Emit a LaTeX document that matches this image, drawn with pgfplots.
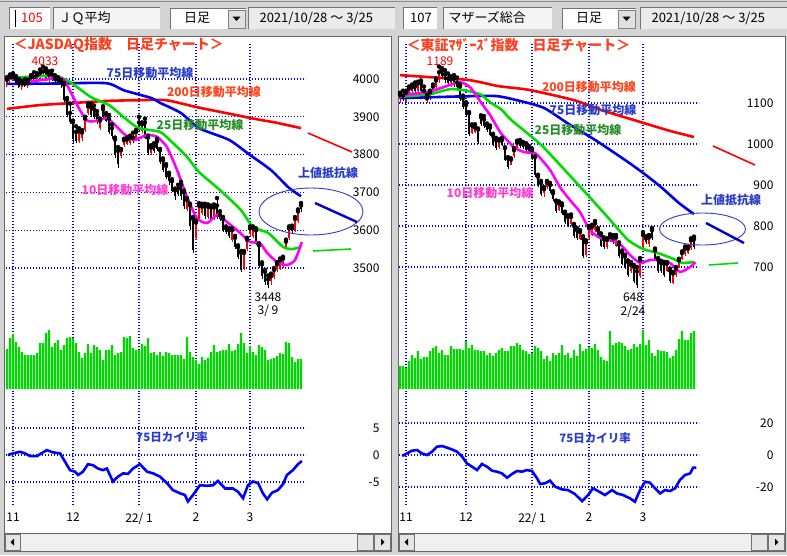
\documentclass[border=0pt]{standalone}
\usepackage{pgfplots}
\pgfplotsset{compat=1.18}
\usepackage{pgfplotstable}
\usepackage{fontspec}
\setmainfont{Noto Sans CJK JP}

\definecolor{guigray}{RGB}{212,212,212}
\definecolor{ma200}{RGB}{255,0,0}
\definecolor{ma75}{RGB}{0,0,235}
\definecolor{ma25}{RGB}{0,220,0}
\definecolor{ma10}{RGB}{255,0,255}
\definecolor{volgreen}{RGB}{0,214,0}
\definecolor{gridblue}{RGB}{0,0,255}
\definecolor{titlered}{RGB}{255,64,32}
\definecolor{lbl75}{RGB}{40,60,200}
\definecolor{lbl200}{RGB}{255,70,30}
\definecolor{lbl25}{RGB}{40,140,40}
\definecolor{lbl10}{RGB}{255,60,210}
\definecolor{annblue}{RGB}{50,60,200}

% ---------- JASDAQ (left) ----------
\pgfplotstableread{
i o h l c
0 3990 4005 3980 3998
1 3998 4012 3990 4005
5 3980 3995 3970 3988
7 3982 3998 3975 3992
8 3992 4010 3985 4005
10 4000 4015 3990 4010
11 4010 4025 4000 4015
12 4015 4033 4005 4020
14 4000 4020 3990 4012
24 3835 3870 3830 3862
25 3845 3865 3835 3858
26 3865 3900 3860 3895
27 3910 3935 3905 3928
31 3870 3895 3865 3890
38 3795 3815 3790 3812
39 3825 3842 3820 3838
40 3828 3845 3825 3840
41 3832 3850 3825 3845
43 3838 3865 3835 3860
45 3862 3885 3858 3880
48 3805 3825 3800 3818
60 3655 3685 3650 3680
63 3580 3625 3575 3620
64 3630 3672 3625 3665
65 3645 3670 3640 3662
67 3635 3668 3630 3662
69 3632 3668 3628 3660
75 3575 3605 3570 3600
79 3500 3545 3495 3540
80 3550 3580 3545 3575
81 3590 3610 3585 3605
82 3585 3610 3580 3605
88 3465 3485 3455 3478
89 3475 3500 3470 3495
90 3495 3515 3490 3510
91 3500 3525 3495 3520
92 3505 3530 3500 3525
93 3555 3575 3550 3570
94 3580 3610 3575 3605
96 3600 3635 3595 3630
97 3625 3655 3620 3650
}\LRed
\pgfplotstableread{
i o h l c
2 4005 4015 3995 4000
3 4000 4008 3985 3990
4 3990 4000 3975 3980
6 3988 4000 3978 3982
9 4005 4018 3995 4000
13 4020 4028 3995 4000
15 4012 4022 3995 4000
16 4000 4010 3985 3995
17 3998 4005 3985 3990
18 3990 3998 3975 3985
19 3985 3990 3940 3945
20 3945 3950 3900 3905
21 3910 3935 3880 3886
22 3886 3890 3830 3840
23 3860 3875 3830 3835
28 3925 3935 3900 3905
29 3920 3930 3895 3900
30 3905 3915 3880 3885
32 3920 3928 3895 3900
33 3905 3910 3885 3890
34 3895 3905 3855 3860
35 3870 3880 3840 3848
36 3840 3845 3790 3800
37 3810 3820 3765 3775
42 3845 3858 3830 3835
44 3885 3900 3860 3865
46 3885 3895 3840 3845
47 3845 3850 3800 3805
49 3822 3830 3805 3810
50 3835 3842 3810 3815
51 3812 3815 3775 3780
52 3785 3790 3755 3760
53 3770 3775 3735 3742
54 3745 3752 3720 3730
55 3730 3735 3700 3705
56 3705 3710 3680 3690
57 3710 3720 3690 3695
58 3720 3728 3680 3690
59 3700 3705 3655 3665
61 3665 3670 3600 3610
62 3630 3635 3540 3548
66 3665 3670 3630 3638
68 3660 3665 3625 3630
70 3665 3685 3630 3635
71 3640 3650 3625 3630
72 3630 3635 3595 3600
73 3605 3610 3590 3595
74 3600 3605 3580 3585
76 3580 3585 3550 3555
77 3555 3560 3525 3530
78 3540 3545 3490 3495
83 3600 3605 3560 3565
84 3560 3565 3500 3505
85 3510 3515 3470 3480
86 3490 3495 3455 3462
87 3470 3480 3448 3455
95 3605 3612 3590 3598
98 3665 3672 3648 3655
}\LBlack
\pgfplotstableread{
i v
0 3921
11 3931
23 3937
33 3942
44 3944
53 3944
63 3926
73 3910
83 3894
90 3884
98 3870
}\LMAa
\pgfplotstableread{
i v
0 3987
15 3988
33 3989
39 3970
48 3950
51 3937
58 3910
64 3870
74 3839
81 3799
88 3759
94 3712
98 3690
}\LMAb
\pgfplotstableread{
i v
0 4003
8 4006
16 4008
21 3992
28 3952
34 3931
40 3892
44 3870
51 3860
55 3833
60 3794
64 3754
71 3706
78 3653
82 3608
87 3593
92 3556
95 3550
98 3556
}\LMAc
\pgfplotstableread{
i v
0 4003
4 3997
9 3995
14 4000
18 4003
19.5 3992
21.7 3958
24.3 3918
26.7 3890
28.7 3888
31 3892
33.3 3897
35.3 3884
38.7 3857
42 3839
44.3 3844
46.7 3852
50 3847
53.3 3820
56.7 3759
60 3688
63.3 3632
66.7 3619
70 3640
73.3 3622
77.7 3593
81 3569
84.3 3566
86.7 3540
90 3516
93.3 3508
96 3521
98.3 3569
}\LMAd
\pgfplotstableread{
i v
0 40
1 51
2 55
3 47
4 42
5 37
6 34
7 34
8 34
9 34
10 36
11 46
12 46
13 56
14 59
15 42
16 46
17 49
18 39
19 44
20 51
21 52
22 51
23 46
24 37
25 31
26 36
27 45
28 36
29 44
30 42
31 39
32 29
33 39
34 39
35 44
36 34
37 36
38 37
39 52
40 51
41 53
42 41
43 39
44 39
45 45
46 43
47 51
48 36
49 37
50 34
51 37
52 33
53 37
54 36
55 34
56 34
57 34
58 34
59 30
60 52
61 37
62 32
63 29
64 25
65 32
66 29
67 31
68 37
69 44
70 37
71 38
72 39
73 39
74 45
75 38
76 39
77 45
78 56
79 46
80 36
81 43
82 37
83 34
84 44
85 42
86 39
87 29
88 30
89 31
90 33
91 36
92 35
93 47
94 46
95 32
96 27
97 30
98 30
}\LVol
\pgfplotstableread{
i v
0.3 0
2 0.3
4.3 0.6
6 0.3
7.7 -0.2
10 -0.2
11.7 0.4
13.3 0.9
15.3 0.5
17.7 0.3
19.3 -1.2
21 -2.8
22.7 -3.1
23.7 -3.7
25.3 -3.1
27 -1.7
28.7 -1.9
30.3 -2.5
32 -2.8
33.3 -2.5
35.3 -4.9
37 -4.0
38.7 -3.4
40.3 -3.5
42 -2.5
44.3 -1.7
46.7 -3.1
48.7 -3.4
51 -4.0
53.3 -5.2
55.3 -6.5
57.7 -7.1
59.3 -7.4
60.3 -8.6
62 -7.4
64.3 -5.6
66.7 -5.7
68.7 -5.6
70.3 -4.8
72.7 -6.2
75.3 -6.2
77 -6.8
78.7 -8.0
80.3 -5.6
82 -4.9
83.7 -5.2
85.3 -7.1
86.7 -8.2
88.3 -7.0
90.3 -6.5
92 -5.4
93.3 -3.7
95.3 -2.8
97 -1.7
98.3 -1.1
}\LDev

% ---------- Mothers (right) ----------
\pgfplotstableread{
i o h l c
0 1110 1125 1100 1120
2 1105 1130 1100 1125
3 1120 1140 1115 1135
4 1130 1145 1120 1138
6 1130 1152 1128 1148
9 1105 1120 1100 1112
10 1112 1130 1108 1126
11 1125 1145 1120 1140
12 1140 1160 1135 1155
13 1155 1189 1150 1175
17 1150 1165 1140 1158
24 1028 1048 1025 1045
25 1030 1048 1028 1040
33 992 1012 988 1008
37 950 965 948 962
38 970 990 965 985
39 990 1008 988 1003
48 880 895 870 890
49 895 910 890 905
53 840 860 836 855
57 805 828 800 822
60 768 790 765 785
62 730 765 725 760
63 770 800 765 795
64 778 803 775 798
65 790 812 785 806
69 750 770 745 766
72 752 778 748 772
77 690 712 685 705
80 678 722 672 716
81 750 785 745 778
83 755 778 750 772
89 690 712 688 708
91 662 688 658 684
92 680 700 676 696
93 700 720 697 716
94 720 738 716 734
95 732 750 728 745
96 735 750 732 745
97 746 770 742 765
}\RRed
\pgfplotstableread{
i o h l c
1 1118 1130 1105 1110
5 1140 1150 1125 1130
7 1148 1155 1125 1130
8 1130 1140 1110 1115
14 1178 1185 1160 1165
15 1170 1180 1150 1155
16 1160 1172 1145 1150
18 1160 1168 1140 1145
19 1150 1162 1135 1140
20 1140 1145 1105 1110
21 1112 1118 1085 1090
22 1095 1102 1065 1070
23 1075 1078 1020 1025
26 1035 1038 1000 1005
27 1065 1070 1045 1048
28 1060 1068 1040 1045
29 1045 1050 1030 1035
30 1040 1045 1020 1022
31 1020 1025 995 1000
32 1010 1015 985 990
34 1010 1015 995 998
35 990 992 958 962
36 965 968 938 945
40 1005 1010 990 995
41 1000 1005 988 992
42 998 1002 982 985
43 990 995 978 982
44 985 988 960 965
45 968 970 920 925
46 920 925 895 900
47 905 910 872 878
50 900 905 880 885
51 880 885 860 865
52 860 862 832 836
54 850 855 828 832
55 830 835 805 810
56 822 826 798 802
58 800 805 770 775
59 790 795 765 770
61 770 775 722 728
66 790 795 770 775
67 778 782 748 752
68 768 772 745 750
70 775 780 760 765
71 770 778 755 760
73 755 760 722 726
74 735 740 705 708
75 725 730 695 700
76 712 716 676 680
78 700 705 660 665
79 690 700 648 655
82 770 775 755 760
84 790 795 765 770
85 740 745 715 720
86 718 722 685 690
87 710 715 685 690
88 708 712 675 680
90 692 696 662 666
98 768 774 745 750
}\RBlack
\pgfplotstableread{
i v
0 1168
10 1163
23 1156
33 1141
43 1132
58 1107
67 1083
80 1054
90 1032
98 1017
}\RMAa
\pgfplotstableread{
i v
0 1112
10 1114
20 1116
32 1117
40 1105
48 1088
56 1050
65 1010
76 956
82 924
87 895
93 856
98 829
}\RMAb
\pgfplotstableread{
i v
0 1115
10 1122
17 1134
23 1129
27 1120
30 1102
34 1083
37 1059
47 998
57 920
65 856
70 815
76 766
81 744
86 734
92 717
94 710
98 712
}\RMAc
\pgfplotstableread{
i v
0 1115
3.3 1122
6.7 1124
11.7 1132
16.7 1144
20 1151
23.3 1139
26 1112
28.3 1088
30 1071
33.3 1030
35 1015
38.3 990
41.7 980
45 978
46.7 966
50 937
53.3 895
56.7 863
60 834
63.3 790
66.7 771
70 766
73.3 756
76.7 729
80 710
83.3 717
86.7 717
90 710
93.3 688
96.7 700
98.5 712
}\RMAd
\pgfplotstableread{
i v
0 23
1 23
2 21
3 28
4 34
5 31
6 38
7 30
8 32
9 32
10 38
11 41
12 43
13 36
14 39
15 34
16 34
17 43
18 40
19 40
20 40
21 39
22 48
23 41
24 44
25 39
26 39
27 38
28 38
29 34
30 36
31 33
32 36
33 39
34 41
35 38
36 38
37 43
38 43
39 46
40 44
41 39
42 38
43 35
44 36
45 43
46 41
47 38
48 30
49 33
50 28
51 36
52 34
53 36
54 44
55 34
56 36
57 31
58 39
59 33
60 45
61 38
62 40
63 42
64 41
65 45
66 39
67 32
68 29
69 28
70 58
71 44
72 46
73 47
74 46
75 43
76 39
77 40
78 45
79 42
80 45
81 59
82 44
83 49
84 36
85 33
86 39
87 38
88 38
89 37
90 31
91 33
92 39
93 50
94 58
95 49
96 49
97 56
98 58
}\RVol
\pgfplotstableread{
i v
0.7 -0.6
2.3 1.0
4 2.7
5.7 3.1
7.3 1.0
9 0
10.7 2.1
12.3 5.2
14 5.6
15.7 4.6
17.3 3.5
19 2.1
20.7 -1.0
22.3 -5.2
24 -7.3
25.7 -9.4
27.3 -5.6
29 -7.3
30.7 -9.8
32.3 -10.4
34 -11.5
35.7 -14.2
37.3 -11.9
39 -10
40.7 -10.4
42.3 -9.4
44 -10
45.7 -14.6
46.7 -18.1
48.3 -17.7
50 -16.0
51.7 -19.8
54 -21.5
56 -21.9
58.3 -24.4
60.7 -28.8
62.7 -25
64.3 -20.8
66 -22.5
68.3 -25
70.7 -21.9
72.3 -24
74.3 -25
76.7 -27.1
78.3 -29.2
80 -21.9
81.7 -16.7
83.3 -17.3
85 -20.8
86.7 -24
88.3 -21.9
90 -22.5
91.7 -20.8
93.3 -15.6
95 -12.5
96.7 -11.5
97.7 -7.9
98.8 -7.9
}\RDev

\pgfplotsset{
  panel/.style={
    scale only axis, width=300pt,
    xmin=-0.3333, xmax=99.6667,
    axis line style={draw=none}, tick style={draw=none},
    xtick={2,22,44,63,81}, xticklabels={},
    xmajorgrids, ymajorgrids,
    major grid style={draw=gridblue, line width=1.3pt, dash pattern=on 1.3pt off 1.7pt},
    yticklabel pos=right,
    /pgf/number format/1000 sep={},
    /pgf/number format/assume math mode=true,
    ticklabel style={font=\fontsize{12}{13}\selectfont},
    xticklabel style={yshift=-4pt},
  },
  wick/.style={only marks, mark=none, error bars/.cd, y dir=minus, y explicit, error mark=none,
    error bar style={draw=#1, line width=1pt}},
  body/.style={only marks, mark=none, error bars/.cd, y dir=minus, y explicit, error mark=none,
    error bar style={draw=#1, line width=2.2pt}},
  maline/.style={#1, line width=2.6pt, mark=none, smooth, tension=0.4},
}

\newcommand{\candles}[2]{%
  \addplot[wick=black] table[x=i, y=h, y error minus expr=\thisrow{h}-\thisrow{l}] {#2};
  \addplot[body=black] table[x=i, y=o, y error minus expr=\thisrow{o}-\thisrow{c}] {#2};
  \addplot[wick=red] table[x=i, y=h, y error minus expr=\thisrow{h}-\thisrow{l}] {#1};
  \addplot[body=red] table[x=i, y=c, y error minus expr=\thisrow{c}-\thisrow{o}] {#1};
}

\begin{document}
\begin{tikzpicture}
\useasboundingbox (0pt,0pt) rectangle (787pt,-555pt);
\fill[guigray] (0pt,0pt) rectangle (787pt,-555pt);
\draw[black!45] (0pt,-1pt) -- (787pt,-1pt);

% header, left
\fill[white] (9pt,-7pt) rectangle (50pt,-29pt);
\draw[black!55] (9pt,-29pt) |- (50pt,-7pt);
\draw[black, line width=0.8pt] (15pt,-10pt) -- (15pt,-27pt);
\node[text=red, font=\fontsize{13}{13}\selectfont] at (32pt,-18pt) {105};
\fill[black!4] (53pt,-7pt) rectangle (160pt,-29pt);
\draw[black!55] (53pt,-29pt) |- (160pt,-7pt);
\node[anchor=west, font=\fontsize{13}{13}\selectfont] at (55pt,-18pt) {ＪＱ平均};
\fill[white] (170pt,-8pt) rectangle (246pt,-29pt);
\draw[black!55] (170pt,-29pt) |- (246pt,-8pt);
\node[font=\fontsize{13}{13}\selectfont] at (197pt,-18pt) {日足};
\fill[black!12] (228pt,-10pt) rectangle (245pt,-28pt);
\draw[black!50] (228pt,-28pt) rectangle (245pt,-10pt);
\fill[black] (232.5pt,-16.5pt) -- (240.5pt,-16.5pt) -- (236.5pt,-21pt) -- cycle;
\fill[black!8] (248pt,-7pt) rectangle (395pt,-29pt);
\draw[black!55] (248pt,-29pt) |- (395pt,-7pt);
\node[anchor=west, font=\fontsize{13}{13}\selectfont] at (256pt,-18pt) {2021/10/28 ～ 3/25};

% header, right
\fill[white] (403pt,-7pt) rectangle (437pt,-29pt);
\draw[black!55] (403pt,-29pt) |- (437pt,-7pt);
\node[font=\fontsize{13}{13}\selectfont] at (421pt,-18pt) {107};
\fill[black!4] (443pt,-7pt) rectangle (552pt,-29pt);
\draw[black!55] (443pt,-29pt) |- (552pt,-7pt);
\node[anchor=west, font=\fontsize{13}{13}\selectfont] at (445pt,-18pt) {マザーズ総合};
\fill[white] (562pt,-8pt) rectangle (636pt,-29pt);
\draw[black!55] (562pt,-29pt) |- (636pt,-8pt);
\node[font=\fontsize{13}{13}\selectfont] at (589pt,-18pt) {日足};
\fill[black!12] (618pt,-10pt) rectangle (635pt,-28pt);
\draw[black!50] (618pt,-28pt) rectangle (635pt,-10pt);
\fill[black] (622.5pt,-16.5pt) -- (630.5pt,-16.5pt) -- (626.5pt,-21pt) -- cycle;
\fill[black!8] (640pt,-7pt) rectangle (787pt,-29pt);
\draw[black!55] (640pt,-29pt) |- (787pt,-7pt);
\node[anchor=west, font=\fontsize{13}{13}\selectfont] at (648pt,-18pt) {2021/10/28 ～ 3/25};

% panels
\fill[white] (4pt,-36pt) rectangle (391pt,-533pt);
\draw[black!60] (4pt,-36pt) rectangle (391pt,-533pt);
\fill[white] (398pt,-36pt) rectangle (785pt,-533pt);
\draw[black!60] (398pt,-36pt) rectangle (785pt,-533pt);

% scrollbars
\foreach \a/\b in {4/391, 398/785}{
  \fill[black!6] (\a pt,-533pt) rectangle (\b pt,-551pt);
  \draw[black!60] (\a pt,-533pt) rectangle (\b pt,-551pt);
  \fill[black!10] (\a pt+1pt,-534pt) rectangle (\a pt+16pt,-550pt);
  \draw[black!55] (\a pt+1pt,-534pt) rectangle (\a pt+16pt,-550pt);
  \fill[black] (\a pt+6.5pt,-542pt) -- (\a pt+10pt,-538.5pt) -- (\a pt+10pt,-545.5pt) -- cycle;
  \fill[black!10] (\b pt-34pt,-534pt) rectangle (\b pt-18pt,-550pt);
  \draw[black!55] (\b pt-34pt,-534pt) rectangle (\b pt-18pt,-550pt);
  \fill[black!10] (\b pt-17pt,-534pt) rectangle (\b pt-1pt,-550pt);
  \draw[black!55] (\b pt-17pt,-534pt) rectangle (\b pt-1pt,-550pt);
  \fill[black] (\b pt-6.5pt,-542pt) -- (\b pt-10pt,-538.5pt) -- (\b pt-10pt,-545.5pt) -- cycle;
}

% ===== left: price =====
\begin{axis}[panel, at={(6pt,-318pt)}, anchor=south west, height=276pt,
  ymin=3367.7, ymax=4097.9, ytick={3500,3600,3700,3800,3900,4000},
  yticklabel style={anchor=east, xshift=77pt}]
  \addplot[maline=ma200] table[x=i,y=v] {\LMAa};
  \candles{\LRed}{\LBlack}
  \addplot[maline=ma75] table[x=i,y=v] {\LMAb};
  \addplot[maline=ma25] table[x=i,y=v] {\LMAc};
  \addplot[maline=ma10] table[x=i,y=v] {\LMAd};
\end{axis}
% ===== left: volume =====
\begin{axis}[panel, at={(6pt,-392pt)}, anchor=south west, height=74pt,
  ymin=-3, ymax=71, ytick=\empty]
  \addplot[ybar, bar width=2.1pt, fill=volgreen, draw=none] table[x=i,y=v] {\LVol};
\end{axis}
% ===== left: deviation =====
\begin{axis}[panel, at={(6pt,-505pt)}, anchor=south west, height=113pt,
  ymin=-9.26, ymax=11.67, ytick={-5,0,5},
  yticklabel style={anchor=east, xshift=77pt},
  xticklabels={11,12,22/ 1,2,3}]
  \addplot[blue, line width=2.6pt, mark=none] table[x=i,y=v] {\LDev};
\end{axis}

% ===== right: price =====
\begin{axis}[panel, at={(399pt,-318pt)}, anchor=south west, height=276pt,
  ymin=575.6, ymax=1248.8, ytick={700,800,900,1000,1100},
  yticklabel style={anchor=east, xshift=78pt}]
  \addplot[maline=ma200] table[x=i,y=v] {\RMAa};
  \candles{\RRed}{\RBlack}
  \addplot[maline=ma75] table[x=i,y=v] {\RMAb};
  \addplot[maline=ma25] table[x=i,y=v] {\RMAc};
  \addplot[maline=ma10] table[x=i,y=v] {\RMAd};
\end{axis}
% ===== right: volume =====
\begin{axis}[panel, at={(399pt,-392pt)}, anchor=south west, height=74pt,
  ymin=-3, ymax=71, ytick=\empty]
  \addplot[ybar, bar width=2.1pt, fill=volgreen, draw=none] table[x=i,y=v] {\RVol};
\end{axis}
% ===== right: deviation =====
\begin{axis}[panel, at={(399pt,-505pt)}, anchor=south west, height=113pt,
  ymin=-31.25, ymax=39.4, ytick={-20,0,20},
  yticklabel style={anchor=east, xshift=78pt},
  xticklabels={11,12,22/ 1,2,3}]
  \addplot[blue, line width=2.6pt, mark=none] table[x=i,y=v] {\RDev};
\end{axis}

% labels, left
\node[anchor=west, text=titlered, font=\fontsize{14}{14}\selectfont\bfseries] at (10pt,-45pt) {＜JASDAQ指数　日足チャート＞};
\node[text=red, font=\fontsize{12}{12}\selectfont] at (45pt,-61pt) {4033};
\node[text=lbl75, font=\fontsize{12}{12}\selectfont\bfseries] at (150pt,-73pt) {75日移動平均線};
\node[text=lbl200, font=\fontsize{12}{12}\selectfont\bfseries] at (214pt,-92pt) {200日移動平均線};
\node[text=lbl25, font=\fontsize{12}{12}\selectfont\bfseries] at (200pt,-125pt) {25日移動平均線};
\node[text=lbl10, font=\fontsize{12}{12}\selectfont\bfseries] at (125pt,-190pt) {10日移動平均線};
\node[text=lbl75, font=\fontsize{12}{12}\selectfont\bfseries] at (328pt,-173pt) {上値抵抗線};
\node[font=\fontsize{12}{12}\selectfont] at (268pt,-297pt) {3448};
\node[font=\fontsize{12}{12}\selectfont] at (268pt,-311pt) {3/ 9};
\node[text=lbl75, font=\fontsize{11.5}{12}\selectfont\bfseries] at (172pt,-437pt) {75日カイリ率};
\draw[red, line width=1.6pt] (308pt,-133pt) -- (352pt,-152pt);
\draw[annblue, line width=0.9pt] (311pt,-211.5pt) ellipse [x radius=52pt, y radius=23.5pt];
\draw[blue!80!black, line width=2.4pt] (315pt,-203pt) -- (357pt,-222pt);
\draw[ma25, line width=1.6pt] (313pt,-251pt) -- (351pt,-249pt);

% labels, right
\node[anchor=west, text=titlered, font=\fontsize{14}{14}\selectfont\bfseries] at (403pt,-45pt) {＜東証ﾏｻﾞｰｽﾞ指数　日足チャート＞};
\node[text=red, font=\fontsize{12}{12}\selectfont] at (440pt,-61pt) {1189};
\node[text=lbl200, font=\fontsize{12}{12}\selectfont\bfseries] at (589pt,-87pt) {200日移動平均線};
\node[text=lbl75, font=\fontsize{12}{12}\selectfont\bfseries] at (593pt,-110pt) {75日移動平均線};
\node[text=lbl25, font=\fontsize{12}{12}\selectfont\bfseries] at (578pt,-130pt) {25日移動平均線};
\node[text=lbl10, font=\fontsize{12}{12}\selectfont\bfseries] at (490pt,-193pt) {10日移動平均線};
\node[text=lbl75, font=\fontsize{12}{12}\selectfont\bfseries] at (731pt,-200pt) {上値抵抗線};
\node[font=\fontsize{12}{12}\selectfont] at (633pt,-297pt) {648};
\node[font=\fontsize{12}{12}\selectfont] at (633pt,-312pt) {2/24};
\node[text=lbl75, font=\fontsize{11.5}{12}\selectfont\bfseries] at (595pt,-438pt) {75日カイリ率};
\draw[red, line width=1.6pt] (713pt,-146pt) -- (755pt,-165pt);
\draw[annblue, line width=0.9pt] (702.5pt,-229pt) ellipse [x radius=43pt, y radius=16pt];
\draw[blue!80!black, line width=2.4pt] (706pt,-223pt) -- (744pt,-243pt);
\draw[ma25, line width=1.6pt] (709pt,-265pt) -- (738pt,-263pt);
\end{tikzpicture}
\end{document}
